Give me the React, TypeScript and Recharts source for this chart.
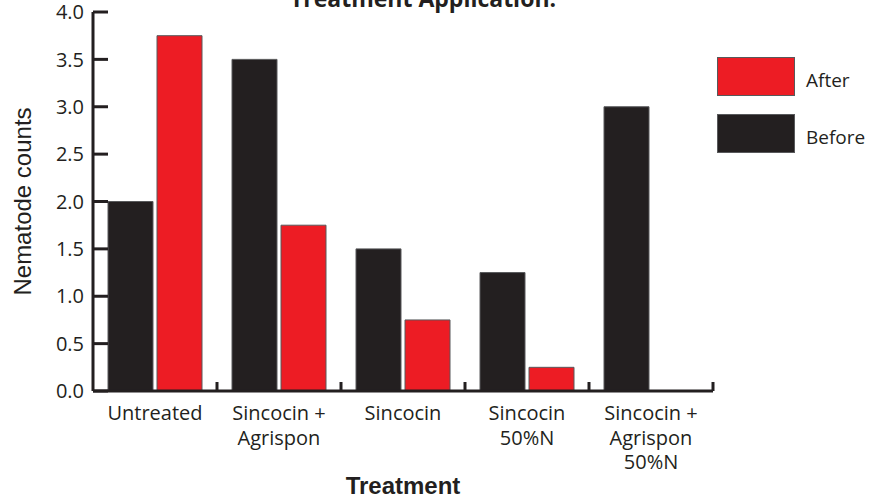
import React from 'react';
import { BarChart, Bar, XAxis, YAxis, Legend } from 'recharts';

const treatments = [
  'Untreated',
  'Sincocin +\nAgrispon',
  'Sincocin',
  'Sincocin\n50%N',
  'Sincocin +\nAgrispon\n50%N',
];
const before = [2.0, 3.5, 1.5, 1.25, 3.0];
const after = [3.75, 1.75, 0.75, 0.25, 0];
const yTicks = [0, 0.5, 1, 1.5, 2, 2.5, 3, 3.5, 4];

const rows = treatments.map((t, i) => ({ treatment: t, before: before[i], after: after[i] }));

const INK = '#231f20';
const RED = '#ed1c24';
const EDGE = '#58595b';
const FONT = '"Open Sans", sans-serif';

const YTick = (props: any) => {
  const { x, y, payload } = props;
  return (
    <g>
      <line x1={x} x2={x + 15} y1={y} y2={y} stroke={INK} strokeWidth={3} />
      <text x={x - 9} y={y} dy="0.36em" textAnchor="end" fontFamily={FONT} fontSize={20} fill={INK}>
        {Number(payload.value).toFixed(1)}
      </text>
    </g>
  );
};

const XTick = (props: any) => {
  const { x, y, payload, width, visibleTicksCount } = props;
  const half = payload.offset || width / visibleTicksCount / 2;
  const lines = String(payload.value).split('\n');
  return (
    <g>
      <line x1={x + half} x2={x + half} y1={y} y2={y - 9} stroke={INK} strokeWidth={3} />
      <text x={x} y={y} textAnchor="middle" fontFamily={FONT} fontSize={20} fill={INK}>
        {lines.map((l, i) => (
          <tspan key={i} x={x} y={y + 29 + i * 24.5}>
            {l}
          </tspan>
        ))}
      </text>
    </g>
  );
};

const LegendBox = () => (
  <div style={{ fontFamily: FONT, fontSize: 19, color: INK }}>
    {[
      { name: 'After', color: RED },
      { name: 'Before', color: INK },
    ].map((it) => (
      <div key={it.name} style={{ display: 'flex', alignItems: 'center', height: 39, marginBottom: 18 }}>
        <div
          style={{
            width: 76,
            height: 37,
            background: it.color,
            border: `1.5px solid ${EDGE}`,
            marginRight: 11,
          }}
        />
        <span style={{ position: 'relative', top: 3 }}>{it.name}</span>
      </div>
    ))}
  </div>
);

export default function App() {
  return (
    <div style={{ position: 'absolute', left: 0, top: 0, width: 886, height: 501, background: '#fff' }}>
      <BarChart
        width={886}
        height={501}
        data={rows}
        margin={{ top: 12, right: 173, bottom: 0, left: 0 }}
        barCategoryGap={15}
        barGap={4}
      >
        <XAxis
          dataKey="treatment"
          height={110}
          interval={0}
          tickSize={0}
          tickMargin={0}
          stroke={INK}
          strokeWidth={3}
          tick={<XTick />}
          label={{
            content: (p: any) => {
              const vb = p.viewBox;
              return (
                <text
                  x={vb.x + vb.width / 2}
                  y={vb.y + vb.height - 7}
                  textAnchor="middle"
                  fontFamily='"Liberation Sans", Arial, sans-serif'
                  fontWeight="bold"
                  fontSize={24}
                  fill={INK}
                >
                  Treatment
                </text>
              );
            },
          }}
        />
        <YAxis
          width={93}
          domain={[0, 4]}
          ticks={yTicks}
          interval={0}
          tickSize={0}
          tickMargin={0}
          stroke={INK}
          strokeWidth={3}
          tick={<YTick />}
          label={{
            content: (p: any) => {
              const vb = p.viewBox;
              const cy = vb.y + vb.height / 2;
              return (
                <text
                  x={22}
                  y={cy}
                  transform={`rotate(-90 22 ${cy})`}
                  textAnchor="middle"
                  dominantBaseline="central"
                  fontFamily='"Liberation Sans", Arial, sans-serif'
                  fontSize={24}
                  fill={INK}
                >
                  Nematode counts
                </text>
              );
            },
          }}
        />
        <Legend
          layout="vertical"
          align="center"
          verticalAlign="middle"
          content={<LegendBox />}
          wrapperStyle={{ left: 717, top: 57, width: 160 }}
        />
        <Bar dataKey="before" name="Before" fill={INK} stroke={EDGE} strokeWidth={1} isAnimationActive={false} />
        <Bar dataKey="after" name="After" fill={RED} stroke={EDGE} strokeWidth={1} isAnimationActive={false} />
      </BarChart>
      <svg width={886} height={501} style={{ position: 'absolute', left: 0, top: 0, pointerEvents: 'none' }}>
        <text x={423} y={7} textAnchor="middle" fontFamily={FONT} fontWeight="bold" fontSize={23} fill={INK}>
          Treatment Application.
        </text>
      </svg>
    </div>
  );
}
